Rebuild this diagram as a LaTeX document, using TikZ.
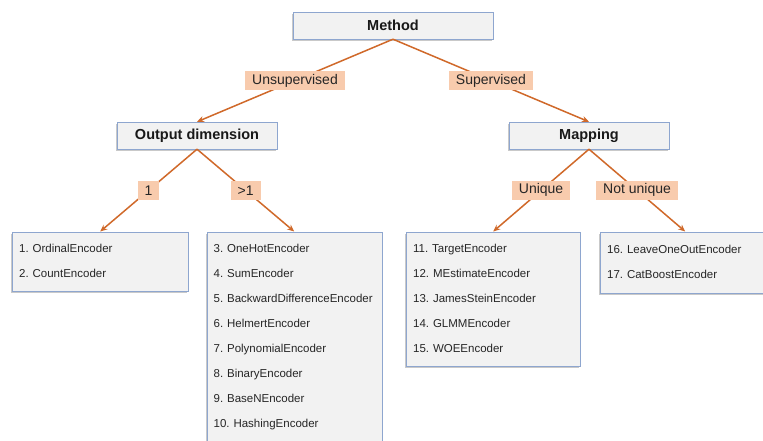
\documentclass[tikz,border=0pt]{standalone}
\usepackage{fontspec}
\setmainfont{Liberation Sans}
\usetikzlibrary{arrows.meta,shadows}
\frenchspacing
\hyphenpenalty=10000
\definecolor{branchorange}{HTML}{D0692A}
\definecolor{tagpeach}{HTML}{F8CBAD}
\definecolor{boxgray}{HTML}{F2F2F2}
\definecolor{boxblue}{HTML}{8EA6CF}
\tikzset{
  boxshadow/.style={drop shadow={shadow xshift=-1.2pt,shadow yshift=-1.8pt,opacity=.35,fill=black!60}},
  headbox/.style={draw=boxblue,fill=boxgray,boxshadow,text=black!90,
    font=\fontsize{14.5}{16}\selectfont\bfseries,minimum height=27pt,inner sep=0pt},
  listbox/.style={draw=boxblue,fill=boxgray,boxshadow,text=black!85,anchor=north west,
    align=left,inner xsep=7pt,inner ysep=0pt,font=\fontsize{11.5}{25}\selectfont},
  tagbox/.style={fill=tagpeach,text=black!85,font=\fontsize{14}{16}\selectfont,
    minimum height=19pt,inner xsep=7pt,inner ysep=0pt},
  branch/.style={draw=branchorange,line width=1.5pt,-{Stealth[length=7pt,width=6pt]}}
}
\begin{document}
\begin{tikzpicture}[x=1pt,y=-1pt]
\useasboundingbox [fill=white] (0,0) rectangle (763,440);
% top levels
\node[headbox,minimum width=200pt] (method) at (393,25.5) {Method};
\node[headbox,minimum width=160pt] (outdim) at (197,135.5) {Output dimension};
\node[headbox,minimum width=160pt] (mapping) at (589,135.5) {Mapping};
% encoder lists
\node[listbox,text width=162pt,minimum height=59pt] (single) at (12,231.5)
  {1. OrdinalEncoder\\2. CountEncoder};
\node[listbox,text width=161pt,minimum height=210pt] (multi) at (206.5,231.5)
  {3. OneHotEncoder\\4. SumEncoder\\5. BackwardDifferenceEncoder\\6. HelmertEncoder\\
   7. PolynomialEncoder\\8. BinaryEncoder\\9. BaseNEncoder\\10. HashingEncoder};
\node[listbox,text width=160pt,minimum height=134pt] (unique) at (406,231.5)
  {11. TargetEncoder\\12. MEstimateEncoder\\13. JamesSteinEncoder\\14. GLMMEncoder\\15. WOEEncoder};
\node[listbox,text width=156pt,minimum height=61pt] (notunique) at (600,231.5)
  {16. LeaveOneOutEncoder\\17. CatBoostEncoder};
% branches
\draw[branch] (method.south) -- node[tagbox] {Unsupervised} (outdim.north);
\draw[branch] (method.south) -- node[tagbox] {Supervised} (mapping.north);
\draw[branch] (outdim.south) -- node[tagbox] {1} (single.north);
\draw[branch] (outdim.south) -- node[tagbox] {>1} (multi.north);
\draw[branch] (mapping.south) -- node[tagbox] {Unique} (unique.north);
\draw[branch] (mapping.south) -- node[tagbox] {Not unique} (notunique.north);
\end{tikzpicture}
\end{document}
